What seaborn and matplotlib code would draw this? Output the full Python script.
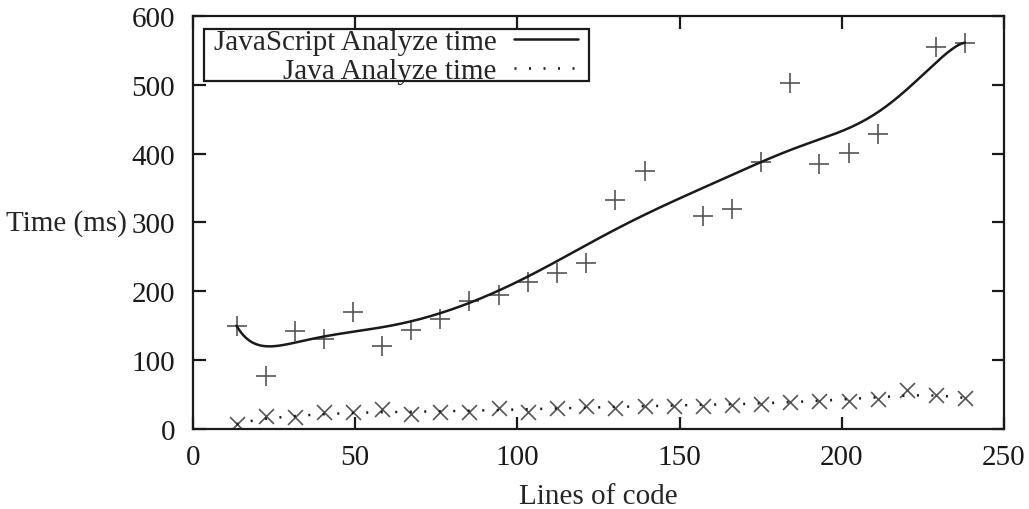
import numpy as np
import pandas as pd
import seaborn as sns
import matplotlib
matplotlib.use("Agg")
import matplotlib.pyplot as plt
from matplotlib.patches import Rectangle
from math import comb

# Measured analyze times by file size
js_lines = [13.4, 22.4, 31.3, 40.3, 49.3, 58.3, 67.3, 76.2, 85.2, 94.2, 103.2, 112.2,
            121.2, 130.2, 139.2, 157.1, 166.1, 175.1, 184.1, 193.1, 202.1, 211.1, 229.1, 238.0]
js_time = [150, 77, 142, 131, 170, 121, 143, 159, 186, 194, 214, 226,
           241, 333, 374, 309, 319, 388, 502, 385, 401, 429, 555, 561]

java_lines = [13.4, 22.4, 31.3, 40.3, 49.3, 58.3, 67.3, 76.2, 85.2, 94.2, 103.2, 112.2, 121.2,
              130.2, 139.2, 148.2, 157.1, 166.1, 175.1, 184.1, 193.1, 202.1, 211.1, 220.1, 229.1, 238.0]
java_time = [7, 19, 17, 24, 24, 29, 22, 24, 24, 31, 25, 31, 34,
             31, 34, 33, 34, 35, 36, 39, 40, 41, 44, 56, 49, 45]

x_ticks = [0, 50, 100, 150, 200, 250]
y_ticks = [0, 100, 200, 300, 400, 500, 600]


def bezier(xs, ys, n=400):
    """Bezier curve using all points as control points (like gnuplot 'smooth bezier')."""
    xs = np.asarray(xs, float)
    ys = np.asarray(ys, float)
    deg = len(xs) - 1
    t = np.linspace(0, 1, n)
    basis = np.array([comb(deg, i) * t**i * (1 - t)**(deg - i) for i in range(deg + 1)])
    return basis.T @ xs, basis.T @ ys


sns.set_style("ticks")
plt.rcParams["font.family"] = ["Liberation Serif", "DejaVu Serif"]
plt.rcParams["font.size"] = 21
plt.rcParams["axes.linewidth"] = 1.6

W, H = 1029, 510
fig = plt.figure(figsize=(W / 100, H / 100), dpi=100)
ax = fig.add_axes([0.1876, 0.157, 0.788, 0.81])

bx, by = bezier(js_lines, js_time)
jx, jy = bezier(java_lines, java_time)

sns.lineplot(x=bx, y=by, sort=False, ax=ax, color="#1a1a1a", linewidth=1.8,
             label="JavaScript Analyze time")
sns.lineplot(x=jx, y=jy, sort=False, ax=ax, color="#1a1a1a", linewidth=1.8,
             linestyle=(0, (0.8, 5)), label="Java Analyze time")

sns.scatterplot(x=js_lines, y=js_time, ax=ax, marker="+", s=210, color="#555555",
                linewidth=1.2, legend=False)
sns.scatterplot(x=java_lines, y=java_time, ax=ax, marker="x", s=115, color="#555555",
                linewidth=1.2, legend=False)

ax.set_xlim(0, 250)
ax.set_ylim(0, 600)
ax.set_xticks(x_ticks)
ax.set_yticks(y_ticks)
ax.tick_params(direction="in", length=9, width=1.6, top=True, right=True,
               labelsize=21, colors="#1a1a1a")
ax.tick_params(axis="y", pad=13)
ax.tick_params(axis="x", pad=11)
for s in ax.spines.values():
    s.set_visible(True)
    s.set_color("#1a1a1a")

ax.set_xlabel("Lines of code", fontsize=21, labelpad=9)
ax.set_ylabel("Time (ms)", fontsize=21, rotation=0, ha="left", va="center")
ax.yaxis.set_label_coords(-0.231, 0.5)

# Key: right-aligned labels with line samples, inside a plain box
leg = ax.legend(loc="center right", bbox_to_anchor=(578 / W, 1 - 57.5 / H),
                bbox_transform=fig.transFigure, markerfirst=False, frameon=False,
                fontsize=21, handlelength=2.2, borderpad=0, labelspacing=0.07,
                handletextpad=0.6, borderaxespad=0)
for t in leg.get_texts():
    t.set_ha("right")
leg._legend_box.align = "right"

fig.add_artist(Rectangle((204 / W, 1 - 82 / H), (589 - 204) / W, 52 / H,
                         transform=fig.transFigure, fill=False,
                         edgecolor="#1a1a1a", linewidth=1.6, zorder=5))

fig.savefig("out.png", dpi=100)
